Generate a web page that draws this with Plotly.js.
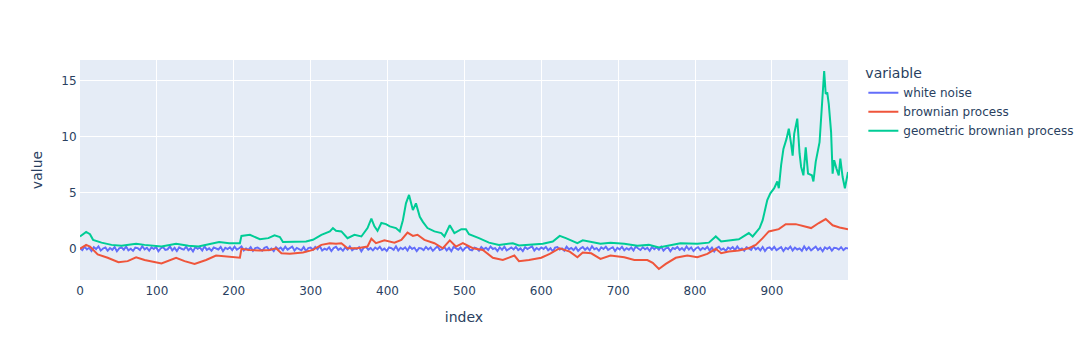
<!DOCTYPE html>
<html>
<head>
<meta charset="utf-8">
<script src="https://cdn.plot.ly/plotly-3.0.1.min.js"></script>
<style>html,body{margin:0;padding:0;background:#fff;}#chart{width:1091px;height:360px;}</style>
</head>
<body>
<div id="chart"></div>
<script>
// series names
var seriesNames = ["white noise", "brownian process", "geometric brownian process"];
var seriesColors = ["#636efa", "#EF553B", "#00cc96"];

// white noise values (sampled every 3 index, last at 999)
var noiseValues = [
0.05,-0.12,0.18,-0.06,0.09,-0.2,0.14,-0.03,0.21,-0.15,
0.02,0.11,-0.17,0.07,-0.09,0.16,-0.22,0.04,0.12,-0.08,
0.19,-0.13,0.01,-0.18,0.1,0.06,-0.11,0.23,-0.05,0.08,
-0.16,0.13,-0.02,0.17,-0.21,0.03,0.15,-0.1,-0.04,0.2,
-0.14,0.09,-0.19,0.12,0.0,-0.07,0.18,-0.12,0.06,-0.23,
0.14,-0.01,0.1,-0.15,0.22,-0.09,0.04,-0.17,0.11,0.02,
-0.06,0.16,-0.2,0.08,-0.03,0.13,-0.12,0.19,-0.08,0.05,
0.21,-0.14,0.03,-0.1,0.15,-0.18,0.07,0.12,-0.05,-0.16,
0.09,0.17,-0.11,0.02,-0.21,0.14,-0.04,0.1,-0.13,0.18,
-0.07,0.05,0.2,-0.16,0.08,-0.02,-0.12,0.15,-0.19,0.06,
0.11,-0.09,0.16,-0.04,0.23,-0.15,0.01,-0.08,0.13,-0.2,
0.07,0.18,-0.1,0.04,-0.17,0.12,-0.06,0.2,-0.13,0.03,
-0.02,0.14,-0.22,0.09,0.15,-0.07,0.06,-0.14,0.1,-0.04,
0.17,-0.11,0.02,-0.19,0.12,0.05,-0.09,0.21,-0.16,0.08,
-0.05,0.13,-0.15,0.19,-0.01,0.1,-0.2,0.07,0.03,-0.12,
0.16,-0.06,0.11,-0.18,0.04,0.22,-0.1,-0.03,0.14,-0.14,
0.08,-0.21,0.17,0.01,-0.08,0.12,-0.16,0.06,0.19,-0.07,
-0.13,0.1,0.03,-0.17,0.15,-0.04,0.09,-0.11,0.2,-0.02,
0.06,-0.19,0.13,-0.09,0.18,-0.14,0.02,0.11,-0.06,0.16,
-0.12,0.04,-0.2,0.14,-0.03,0.09,0.21,-0.15,0.07,-0.08,
0.12,-0.01,0.17,-0.13,0.05,-0.22,0.1,0.15,-0.07,0.03,
-0.16,0.19,-0.05,0.08,-0.11,0.13,-0.18,0.02,0.16,-0.09,
0.1,-0.14,0.22,-0.04,0.06,-0.17,0.12,-0.02,0.18,-0.1,
0.01,0.14,-0.2,0.09,-0.06,0.17,-0.13,0.05,-0.08,0.11,
-0.15,0.2,0.03,-0.11,0.13,-0.05,0.08,-0.18,0.15,-0.03,
0.13,-0.08,0.19,-0.17,0.04,0.1,-0.21,0.07,-0.02,0.16,
-0.1,0.06,-0.14,0.21,-0.06,0.12,-0.19,0.03,0.14,-0.11,
0.08,-0.04,0.17,-0.15,0.1,-0.23,0.05,0.18,-0.09,0.02,
-0.18,0.11,-0.01,0.15,-0.12,0.2,-0.07,0.04,-0.16,0.13,
0.03,-0.1,0.22,-0.05,0.09,-0.14,0.16,-0.19,0.06,0.12,
-0.08,0.17,-0.12,0.01,0.14,-0.2,0.08,-0.03,0.19,-0.15,
0.1,-0.06,0.04,-0.17,0.21,-0.09,0.13,-0.13,0.02,0.18,
-0.11,0.07,-0.22,0.12,-0.02,0.15,-0.16,0.09,0.05,-0.07,
0.14,-0.12,0.06,0.02
];
var noiseIndex = [];
for (var i = 0; i < noiseValues.length - 1; i++) noiseIndex.push(i * 3);
noiseIndex.push(999);

// brownian process
var brownIndex = [0,8,13,23,36,50,62,73,84,106,125,136,149,164,177,190,203,208,210,220,
234,247,255,262,273,290,303,314,325,333,340,348,361,374,379,385,396,409,418,426,
433,439,448,461,472,481,489,498,511,524,537,550,565,571,584,600,611,624,637,647,
654,665,677,690,708,721,738,745,753,762,775,790,803,816,827,834,844,857,870,879,
888,896,909,918,931,940,951,961,970,979,988,999];
var brownValues = [0,0.35,0.2,-0.5,-0.8,-1.2,-1.1,-0.75,-1.0,-1.3,-0.8,-1.1,-1.35,-1.0,-0.6,-0.7,-0.75,-0.8,0,-0.1,
-0.15,-0.1,0.05,-0.4,-0.45,-0.33,-0.1,0.35,0.5,0.45,0.5,0.05,0.05,0.2,0.9,0.5,0.75,0.55,0.8,1.45,
1.15,1.25,0.8,0.5,0.05,0.75,0.2,0.5,0.05,-0.1,-0.8,-1.0,-0.6,-1.1,-1.0,-0.8,-0.45,0.05,-0.25,-0.75,
-0.33,-0.4,-0.9,-0.6,-0.75,-1.0,-1.0,-1.25,-1.8,-1.35,-0.8,-0.6,-0.75,-0.45,0,-0.4,-0.25,-0.15,0.05,0.35,
0.95,1.55,1.75,2.2,2.2,2.05,1.85,2.3,2.65,2.1,1.9,1.75];

// geometric brownian process
var gbmIndex = [0,8,13,17,28,41,54,73,84,106,125,141,154,164,181,194,205,208,210,221,
234,245,253,260,264,277,294,303,314,325,329,333,340,348,357,366,374,379,383,387,
392,398,403,411,416,420,424,428,433,437,442,446,452,461,470,474,481,487,496,502,
506,519,532,545,563,571,589,602,615,624,632,647,654,665,677,690,708,725,740,753,
766,781,803,818,827,834,844,857,870,875,884,888,892,894,898,903,907,909,912,915,
919,922,925,927,929,933,936,938,941,944,947,952,954,957,962,964,966,968,970,972,
974,977,979,981,984,987,989,992,995,999];
var gbmValues = [1.1,1.5,1.3,0.8,0.55,0.35,0.27,0.45,0.35,0.2,0.45,0.27,0.2,0.35,0.6,0.5,0.5,0.5,1.15,1.25,
0.85,0.95,1.2,1.05,0.6,0.6,0.65,0.8,1.25,1.55,1.85,1.6,1.55,0.95,1.25,1.1,1.85,2.7,2.0,1.6,
2.3,2.2,2.0,1.85,1.55,2.55,4.05,4.8,3.45,4.05,2.85,2.4,1.85,1.55,1.4,1.1,2.1,1.4,1.75,1.75,
1.3,0.95,0.55,0.35,0.5,0.3,0.4,0.45,0.65,1.15,0.95,0.5,0.75,0.6,0.45,0.55,0.45,0.27,0.35,0.12,
0.27,0.5,0.45,0.55,1.1,0.65,0.75,0.85,1.4,1.1,1.85,2.55,3.75,4.35,4.95,5.4,6.0,5.4,7.45,8.9,
9.8,10.7,9.35,8.3,10.25,11.6,8.5,7.3,6.55,9.05,6.7,6.55,6.0,7.75,9.5,12.0,13.95,15.85,13.8,13.95,
12.9,10.4,6.7,7.9,7.15,6.55,8.05,6.4,5.4,6.85];

var xs = [noiseIndex, brownIndex, gbmIndex];
var ys = [noiseValues, brownValues, gbmValues];
var traces = seriesNames.map(function (n, k) {
  return {type: "scatter", mode: "lines", name: n, legendgroup: n,
    x: xs[k], y: ys[k], line: {color: seriesColors[k], width: 2}};
});

var layout = {
  width: 1091, height: 360,
  margin: {t: 60, b: 80},
  font: {family: '"DejaVu Sans", verdana, arial, sans-serif', size: 12, color: "#2a3f5f"},
  paper_bgcolor: "white",
  plot_bgcolor: "#E5ECF6",
  legend: {title: {text: "variable"}, tracegroupgap: 0},
  xaxis: {title: {text: "index", standoff: 14}, automargin: true, gridcolor: "white", linecolor: "white",
          zerolinecolor: "white", zerolinewidth: 2, ticks: ""},
  yaxis: {title: {text: "value"}, gridcolor: "white", linecolor: "white", zerolinecolor: "white",
          zerolinewidth: 2, ticks: ""},
  hovermode: "closest"
};
Plotly.newPlot("chart", traces, layout, {displayModeBar: false});
</script>
</body>
</html>
